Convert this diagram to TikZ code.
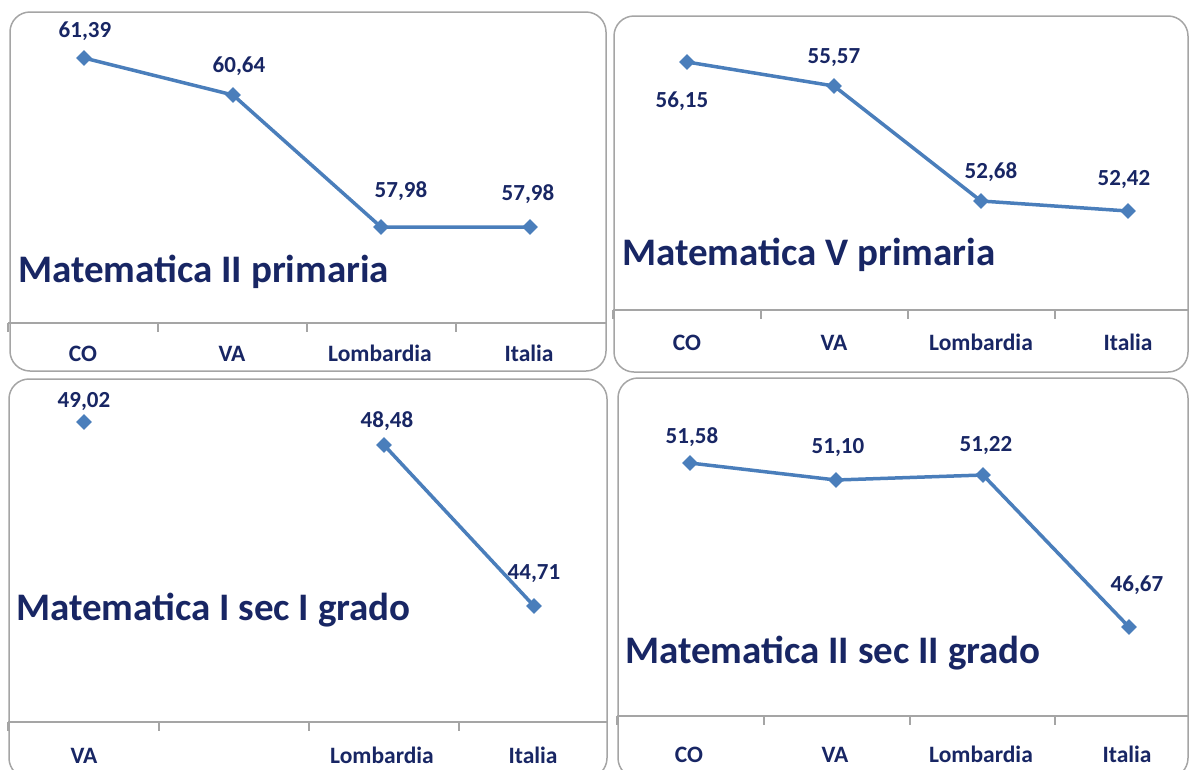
\documentclass[tikz,border=0pt]{standalone}
\usepackage{fontspec}
\setmainfont{Carlito}
\usetikzlibrary{shapes.geometric}
\definecolor{navy}{RGB}{24,38,100}
\definecolor{serie}{RGB}{74,126,187}
\definecolor{framec}{RGB}{165,165,165}
\tikzset{
 panel/.style={draw=framec, line width=1.5pt, rounded corners=20pt},
 axisline/.style={draw=framec, line width=1.3pt},
 mk/.style={diamond, fill=serie, inner sep=0pt, minimum width=16pt, minimum height=16pt},
 val/.style={text=navy, font=\fontsize{23}{23}\selectfont\bfseries, inner sep=0pt, anchor=base},
 cat/.style={text=navy, font=\fontsize{23.5}{23.5}\selectfont\bfseries, inner sep=0pt, anchor=base},
 ttl/.style={text=navy, font=\fontsize{39}{39}\selectfont\bfseries, inner sep=0pt, anchor=base west},
 serieline/.style={draw=serie, line width=3.5pt},
}
\begin{document}
\begin{tikzpicture}[x=1pt,y=-1pt]
\useasboundingbox (0,0) rectangle (1190,769);
\clip (0,0) rectangle (1190,769);
% ---------- panel 1
\draw[panel] (10,12) rectangle (606,371);
\draw[axisline] (8,323) -- (606,323);
\foreach \x in {8,158,307,456} \draw[axisline] (\x,323) -- (\x,332);
\node[cat] (p1c1) at (83,361) {CO};
\node[cat] (p1c2) at (232,361) {VA};
\node[cat] (p1c3) at (380,361) {Lombardia};
\node[cat] (p1c4) at (529,361) {Italia};
\coordinate (a1) at (84,58);
\coordinate (a2) at (233,95);
\coordinate (a3) at (381,227);
\coordinate (a4) at (530,227);
\draw[serieline] (a1) -- (a2) -- (a3) -- (a4);
\foreach \p in {a1,a2,a3,a4} \node[mk] (m\p) at (\p) {};
\node[val] (la1) at (85,37) {61,39};
\node[val] (la2) at (239,72) {60,64};
\node[val] (la3) at (401,197) {57,98};
\node[val] (la4) at (528,200) {57,98};
\node[ttl] (t1) at (18,282) {Matematica II primaria};
% ---------- panel 2
\draw[panel] (614,16) rectangle (1188,372);
\draw[axisline] (613,310) -- (1188,310);
\foreach \x in {613,761,908,1055} \draw[axisline] (\x,310) -- (\x,319);
\node[cat] (p2c1) at (687,350) {CO};
\node[cat] (p2c2) at (834,350) {VA};
\node[cat] (p2c3) at (981,350) {Lombardia};
\node[cat] (p2c4) at (1128,350) {Italia};
\coordinate (b1) at (687,62);
\coordinate (b2) at (834,86);
\coordinate (b3) at (981,201);
\coordinate (b4) at (1128,211);
\draw[serieline] (b1) -- (b2) -- (b3) -- (b4);
\foreach \p in {b1,b2,b3,b4} \node[mk] (m\p) at (\p) {};
\node[val] (lb1) at (682,107) {56,15};
\node[val] (lb2) at (834,63) {55,57};
\node[val] (lb3) at (991,178) {52,68};
\node[val] (lb4) at (1124,185) {52,42};
\node[ttl] (t2) at (622,265) {Matematica V primaria};
% ---------- panel 3
\draw[panel] (9,379) rectangle (607,778);
\draw[axisline] (8,722) -- (607,722);
\foreach \x in {8,159,309,459} \draw[axisline] (\x,722) -- (\x,731);
\node[cat] (p3c1) at (84,763) {VA};
\node[cat] (p3c3) at (382,763) {Lombardia};
\node[cat] (p3c4) at (533,763) {Italia};
\coordinate (c1) at (84,422);
\coordinate (c3) at (384,445);
\coordinate (c4) at (534,606);
\draw[serieline] (c3) -- (c4);
\foreach \p in {c1,c3,c4} \node[mk] (m\p) at (\p) {};
\node[val] (lc1) at (84,407) {49,02};
\node[val] (lc3) at (387,427) {48,48};
\node[val] (lc4) at (534,579) {44,71};
\node[ttl] (t3) at (16,620) {Matematica I sec I grado};
% ---------- panel 4
\draw[panel] (618,378) rectangle (1188,778);
\draw[axisline] (617,716) -- (1188,716);
\foreach \x in {617,764,910,1055} \draw[axisline] (\x,716) -- (\x,725);
\node[cat] (p4c1) at (689,762) {CO};
\node[cat] (p4c2) at (835,762) {VA};
\node[cat] (p4c3) at (981,762) {Lombardia};
\node[cat] (p4c4) at (1127,762) {Italia};
\coordinate (d1) at (690,463);
\coordinate (d2) at (836,480);
\coordinate (d3) at (983,475);
\coordinate (d4) at (1129,627);
\draw[serieline] (d1) -- (d2) -- (d3) -- (d4);
\foreach \p in {d1,d2,d3,d4} \node[mk] (m\p) at (\p) {};
\node[val] (ld1) at (692,443) {51,58};
\node[val] (ld2) at (838,453) {51,10};
\node[val] (ld3) at (986,451) {51,22};
\node[val] (ld4) at (1137,591) {46,67};
\node[ttl] (t4) at (625,663) {Matematica II sec II grado};
\end{tikzpicture}
\end{document}
